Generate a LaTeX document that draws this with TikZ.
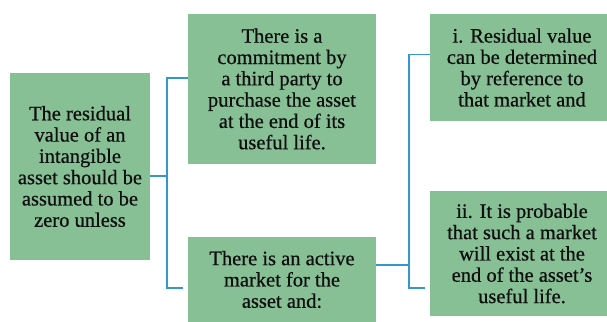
\documentclass[tikz,border=0pt]{standalone}
\usepackage{fontspec}
\setmainfont{Liberation Serif}
\newfontfamily\boxfont{Liberation Serif}[RawFeature={embolden=0.6}]
\usetikzlibrary{calc}
\definecolor{boxgreen}{RGB}{136,192,150}
\definecolor{linkblue}{RGB}{52,152,204}
\definecolor{txt}{RGB}{15,15,15}
\begin{document}
\begin{tikzpicture}[x=1pt,y=-1pt,
  box/.style={fill=boxgreen, draw=none, inner sep=0pt, text=txt, align=center,
    font=\boxfont\fontsize{20.5}{21.3}\selectfont},
  link/.style={draw=linkblue, line width=1.2pt}]
\useasboundingbox (0,0) rectangle (607,321);
\node[box, minimum width=140pt, minimum height=187pt] (A) at (80,166.5)
  {The residual\\value of an\\intangible\\asset should be\\assumed to be\\zero unless};
\node[box, minimum width=188pt, minimum height=150pt] (B) at (282,89)
  {There is a\\commitment by\\a third party to\\purchase the asset\\at the end of its\\useful life.};
\node[box, minimum width=188pt, minimum height=85pt] (C) at (282,279.5)
  {There is an active\\market for the\\asset and:};
\node[box, minimum width=184pt, minimum height=107pt] (D) at (522,67.5)
  {i. Residual value\\can be determined\\by reference to\\that market and};
\node[box, minimum width=184pt, minimum height=125pt] (E) at (522,253.5)
  {ii. It is probable\\that such a market\\will exist at the\\end of the asset’s\\useful life.};
\draw[link] ([yshift=-9.5pt]A.east) -- (167,176);
\draw[link] ([yshift=11pt]B.west) -| (167,288) -- ([xshift=-5pt,yshift=-8.5pt]C.west);
\draw[link] ([yshift=14.5pt]C.east) -- (409,265);
\draw[link] ([yshift=13pt]D.west) -| (409,288) -- ([xshift=-5pt,yshift=-34.5pt]E.west);
\end{tikzpicture}
\end{document}
